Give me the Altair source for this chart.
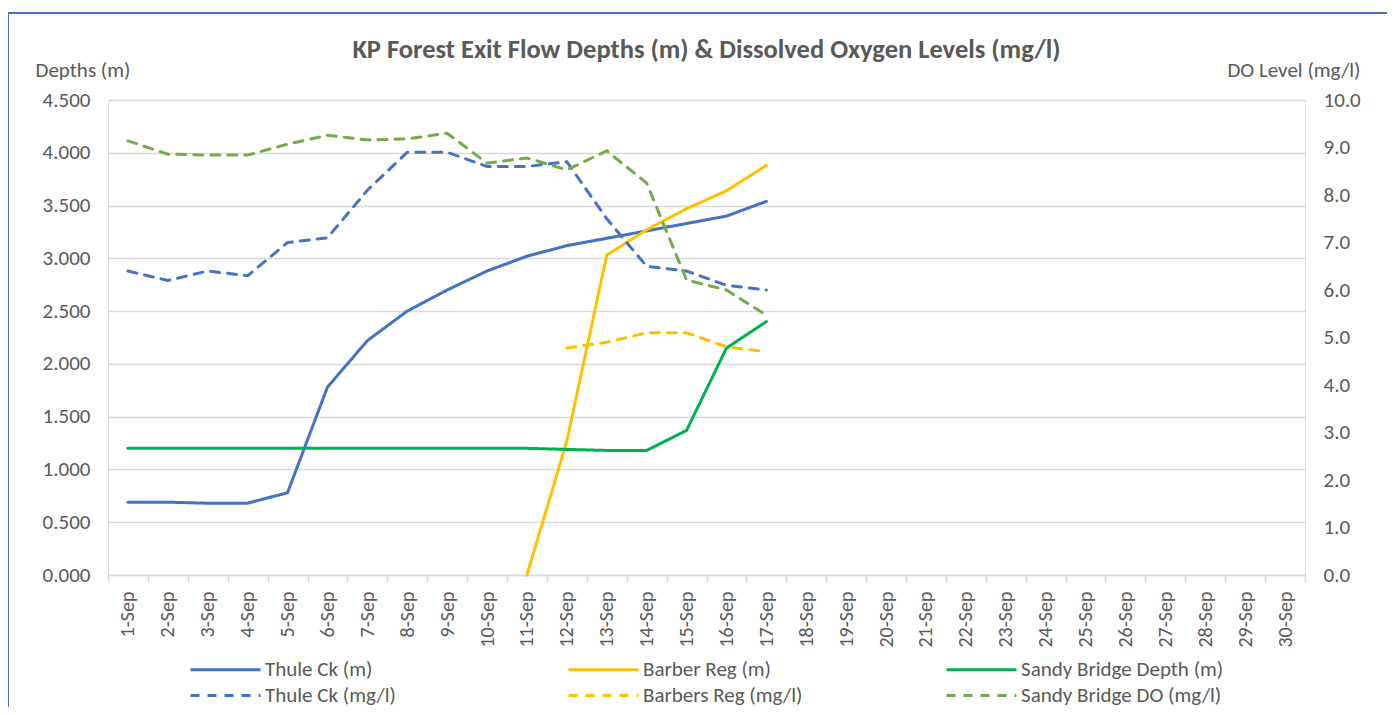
import altair as alt
import pandas as pd

dates = ["1-Sep", "2-Sep", "3-Sep", "4-Sep", "5-Sep", "6-Sep", "7-Sep", "8-Sep", "9-Sep", "10-Sep",
         "11-Sep", "12-Sep", "13-Sep", "14-Sep", "15-Sep", "16-Sep", "17-Sep", "18-Sep", "19-Sep", "20-Sep",
         "21-Sep", "22-Sep", "23-Sep", "24-Sep", "25-Sep", "26-Sep", "27-Sep", "28-Sep", "29-Sep", "30-Sep"]

# Depths (m) - left axis
thule_m = [0.69, 0.69, 0.68, 0.68, 0.78, 1.78, 2.22, 2.50, 2.70, 2.88, 3.02, 3.12, 3.19, 3.26, 3.33, 3.40, 3.54]
barber_m = [None, None, None, None, None, None, None, None, None, None, 0.00, 1.27, 3.03, 3.27, 3.47, 3.64, 3.88]
sandy_m = [1.20, 1.20, 1.20, 1.20, 1.20, 1.20, 1.20, 1.20, 1.20, 1.20, 1.20, 1.19, 1.18, 1.18, 1.37, 2.15, 2.40]

# DO levels (mg/l) - right axis
thule_do = [6.4, 6.2, 6.4, 6.3, 7.0, 7.1, 8.1, 8.9, 8.9, 8.6, 8.6, 8.7, 7.5, 6.5, 6.4, 6.1, 6.0]
barber_do = [None, None, None, None, None, None, None, None, None, None, None, 4.78, 4.9, 5.1, 5.1, 4.8, 4.7]
sandy_do = [9.14, 8.86, 8.84, 8.84, 9.07, 9.26, 9.16, 9.18, 9.30, 8.67, 8.78, 8.53, 8.93, 8.25, 6.21, 6.0, 5.47]

depth_ticks = [0.0, 0.5, 1.0, 1.5, 2.0, 2.5, 3.0, 3.5, 4.0, 4.5]
do_ticks = [0, 1, 2, 3, 4, 5, 6, 7, 8, 9, 10]

series_names = ["Thule Ck (m)", "Barber Reg (m)", "Sandy Bridge Depth (m)",
                "Thule Ck (mg/l)", "Barbers Reg (mg/l)", "Sandy Bridge DO (mg/l)"]
series_colors = ["#4472C4", "#FFC000", "#00B050", "#4472C4", "#FFC000", "#70AD47"]
series_dashes = [[1, 0], [1, 0], [1, 0], [9, 8], [9, 8], [9, 8]]


def long(name, vals, order):
    rows = []
    for d, v in zip(dates, vals):
        if v is not None:
            rows.append({"date": d, "value": v, "series": name, "order": order})
    return rows


depth_df = pd.DataFrame(long(series_names[0], thule_m, 0) + long(series_names[1], barber_m, 1)
                        + long(series_names[2], sandy_m, 2))
do_df = pd.DataFrame(long(series_names[3], thule_do, 3) + long(series_names[4], barber_do, 4)
                     + long(series_names[5], sandy_do, 5))

FONT = "Carlito, Lato, sans-serif"
GREY = "#595959"
FS = 21

legend_args = dict(
    title=None, orient="none", legendX=102, legendY=554, columns=3, direction="horizontal",
    symbolType="M-2.5,0H2.5", symbolSize=784, symbolStrokeWidth=3, labelFontSize=FS,
    labelFont=FONT, labelColor=GREY, columnPadding=94, rowPadding=-2, gridAlign="all",
    labelOffset=24, labelLimit=300
)

color = alt.Color("series:N", scale=alt.Scale(domain=series_names, range=series_colors),
                  legend=alt.Legend(**legend_args))
dash = alt.StrokeDash("series:N", scale=alt.Scale(domain=series_names, range=series_dashes),
                      legend=alt.Legend(**legend_args))

x = alt.X("date:N", scale=alt.Scale(domain=dates), sort=dates,
          axis=alt.Axis(title=None, labelAngle=-90, labelFont=FONT, labelFontSize=20, labelColor=GREY,
                        domainColor="#D9D9D9", domainWidth=1.5, tickColor="#D9D9D9", tickWidth=1.5,
                        tickBand="extent", tickSize=7,
                        labelPadding=9, grid=False, labelBaseline="middle", labelAlign="right"))

depth_line = alt.Chart(depth_df).mark_line(strokeWidth=3, strokeCap="round").encode(
    x=x,
    y=alt.Y("value:Q", scale=alt.Scale(domain=[0, 4.5]),
            axis=alt.Axis(title="Depths (m)", orient="left", format=".3f", values=depth_ticks,
                          grid=True, gridColor="#D9D9D9", gridWidth=1.5, domain=False, ticks=False,
                          labelFont=FONT, labelFontSize=FS, labelColor=GREY, labelPadding=18,
                          titleAngle=0, titleAlign="left", titleBaseline="alphabetic", titleX=-73, titleY=-24,
                          titleFont=FONT, titleFontSize=FS, titleFontWeight="normal", titleColor=GREY)),
    color=color,
    strokeDash=dash,
    order="order:Q",
)

do_line = alt.Chart(do_df).mark_line(strokeWidth=3, strokeCap="round").encode(
    x=x,
    y=alt.Y("value:Q", scale=alt.Scale(domain=[0, 10]),
            axis=alt.Axis(title="DO Level (mg/l)", orient="right", format=".1f", values=do_ticks,
                          grid=False, domain=False, ticks=False,
                          labelFont=FONT, labelFontSize=FS, labelColor=GREY, labelPadding=18,
                          titleAngle=0, titleAlign="right", titleBaseline="alphabetic", titleX=55, titleY=-24,
                          titleFont=FONT, titleFontSize=FS, titleFontWeight="normal", titleColor=GREY)),
    color=color,
    strokeDash=dash,
)

frame = alt.Chart(pd.DataFrame({"f": [0]})).mark_rect(
    fill=None, stroke="#4472C4", strokeWidth=2, clip=False
).encode(x=alt.value(-100), x2=alt.value(1320), y=alt.value(-87), y2=alt.value(640))

chart = alt.layer(frame, depth_line, do_line).resolve_scale(y="independent").properties(
    width=1197, height=475,
    autosize=alt.AutoSizeParams(type="none"),
    padding={"left": 100, "top": 92, "right": 82, "bottom": 132},
    title=alt.TitleParams("KP Forest Exit Flow Depths (m) & Dissolved Oxygen Levels (mg/l)",
                          font=FONT, fontSize=26.5, fontWeight="bold", color=GREY, anchor="middle",
                          baseline="alphabetic", offset=6, dy=78),
).configure_view(stroke=None).configure(background="white")

chart.save("out.html", embed_options={"renderer": "svg", "actions": False})
